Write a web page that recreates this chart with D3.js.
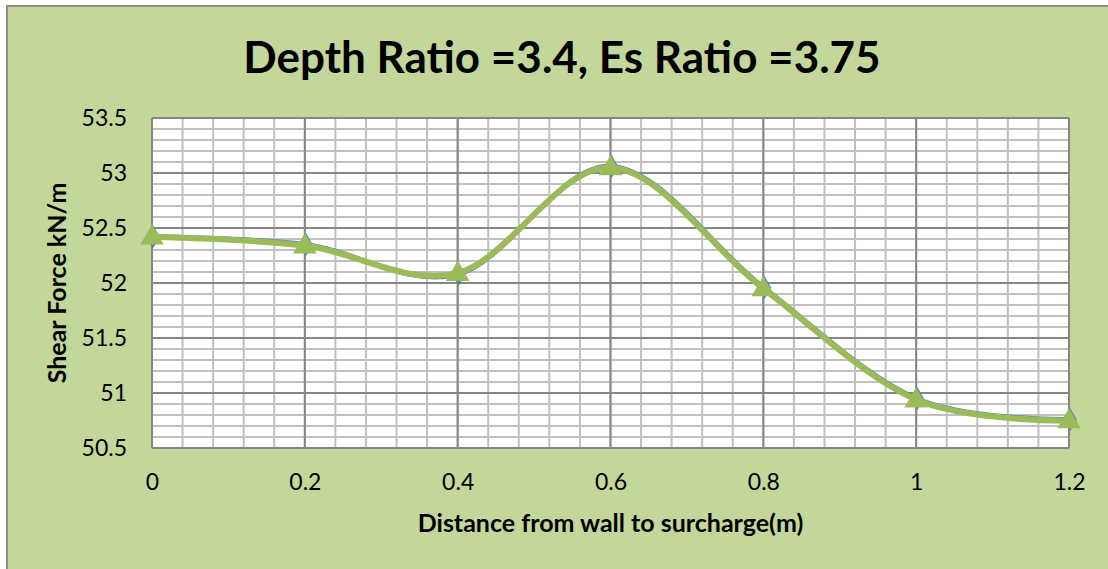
<!DOCTYPE html>
<html>
<head>
<meta charset="utf-8">
<script src="https://cdn.jsdelivr.net/npm/d3@7"></script>
<style>
  body { margin: 0; background: #fff; }
  svg text { font-family: Lato, "Open Sans", sans-serif; fill: #000; }
</style>
</head>
<body>
<div id="graph"></div>
<script>
// distance from wall (m) and shear force (kN/m), two series drawn on top of each other
var distances = [0, 0.2, 0.4, 0.6, 0.8, 1.0, 1.2]
var shearBlue = [52.42, 52.35, 52.08, 53.06, 51.96, 50.95, 50.76]
var shearGreen = [52.42, 52.34, 52.09, 53.05, 51.95, 50.94, 50.75]
var xTicks = [0, 0.2, 0.4, 0.6, 0.8, 1, 1.2]
var yTicks = [50.5, 51, 51.5, 52, 52.5, 53, 53.5]

var width = 1108, height = 569
var margin = {top: 118, left: 152, right: 39, bottom: 121}

var svg = d3.select('#graph').append('svg')
  .attr('width', width).attr('height', height)

// chart area background + border
svg.append('rect')
  .attr('x', 7).attr('y', 6).attr('width', width + 20).attr('height', height + 20)
  .attr('fill', '#c4d79b').attr('stroke', '#8c8c8c').attr('stroke-width', 2)

var x = d3.scaleLinear().domain([0, 1.2]).range([margin.left, width - margin.right])
var y = d3.scaleLinear().domain([50.5, 53.5]).range([height - margin.bottom, margin.top])

svg.append('rect')
  .attr('x', x(0)).attr('y', y(53.5))
  .attr('width', x(1.2) - x(0)).attr('height', y(50.5) - y(53.5))
  .attr('fill', '#fff')

// minor grid
var grid = svg.append('g')
grid.selectAll('line.vmin').data(d3.range(0, 31).map(i => i * 0.04))
  .join('line')
  .attr('x1', d => x(d)).attr('x2', d => x(d))
  .attr('y1', y(50.5)).attr('y2', y(53.5))
  .attr('stroke', '#c0c0c0').attr('stroke-width', 2)
grid.selectAll('line.hmin').data(d3.range(0, 31).map(i => 50.5 + i * 0.1))
  .join('line')
  .attr('y1', d => y(d)).attr('y2', d => y(d))
  .attr('x1', x(0)).attr('x2', x(1.2))
  .attr('stroke', '#c0c0c0').attr('stroke-width', 2)

// major grid
svg.append('g').selectAll('line').data(xTicks)
  .join('line')
  .attr('x1', d => x(d)).attr('x2', d => x(d))
  .attr('y1', y(50.5)).attr('y2', y(53.5))
  .attr('stroke', '#868686').attr('stroke-width', 2)
svg.append('g').selectAll('line').data(yTicks)
  .join('line')
  .attr('y1', d => y(d)).attr('y2', d => y(d))
  .attr('x1', x(0)).attr('x2', x(1.2))
  .attr('stroke', '#868686').attr('stroke-width', 2)

// axes (labels only)
svg.append('g')
  .attr('transform', `translate(0,${y(50.5)})`)
  .call(d3.axisBottom(x).tickValues(xTicks).tickSize(0).tickPadding(26).tickFormat(d3.format('')))
svg.append('g')
  .attr('transform', `translate(${x(0)},0)`)
  .call(d3.axisLeft(y).tickValues(yTicks).tickSize(0).tickPadding(25).tickFormat(d3.format('')))
svg.selectAll('.domain').remove()
svg.selectAll('.tick text').style('font-size', '23px').attr('fill', '#000')

// series
var line = d3.line()
  .x((d, i) => x(distances[i]))
  .y(d => y(d))
  .curve(d3.curveCardinal.tension(0))

svg.append('path').datum(shearBlue)
  .attr('d', line).attr('fill', 'none')
  .attr('stroke', '#4f81bd').attr('stroke-width', 5)
svg.append('g').selectAll('path').data(shearBlue)
  .join('path')
  .attr('d', d3.symbol(d3.symbolDiamond, 160))
  .attr('transform', (d, i) => `translate(${x(distances[i]) + 1},${y(d)})`)
  .attr('fill', '#4f81bd')

svg.append('path').datum(shearGreen)
  .attr('d', line).attr('fill', 'none')
  .attr('stroke', '#9bbb59').attr('stroke-width', 6)
  .attr('stroke-linecap', 'round')
svg.append('g').selectAll('path').data(shearGreen)
  .join('path')
  .attr('d', d3.symbol(d3.symbolTriangle, 240))
  .attr('transform', (d, i) => `translate(${x(distances[i])},${y(d) + 1})`)
  .attr('fill', '#9bbb59')

// titles
svg.append('text')
  .attr('x', 562).attr('y', 73)
  .attr('text-anchor', 'middle')
  .style('font-size', '44px').style('font-weight', 'bold')
  .text('Depth Ratio =3.4, Es Ratio =3.75')

svg.append('text')
  .attr('x', (x(0) + x(1.2)) / 2).attr('y', 532)
  .attr('text-anchor', 'middle')
  .style('font-size', '25px').style('font-weight', 'bold')
  .text('Distance from wall to surcharge(m)')

svg.append('text')
  .attr('transform', `translate(66,${(y(50.5) + y(53.5)) / 2}) rotate(-90)`)
  .attr('text-anchor', 'middle')
  .style('font-size', '25px').style('font-weight', 'bold')
  .text('Shear Force kN/m')
</script>
</body>
</html>
